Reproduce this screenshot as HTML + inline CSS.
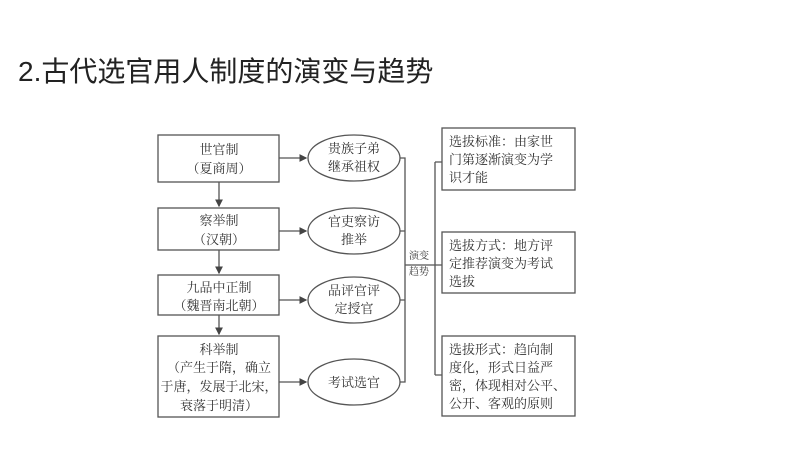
<!DOCTYPE html>
<html><head><meta charset="utf-8"><style>
body{margin:0;background:#fff;width:800px;height:450px;overflow:hidden;font-family:"Liberation Serif","Noto Serif CJK SC",serif;}
svg text{fill:#333;}
</style></head><body>
<svg width="800" height="450" xmlns="http://www.w3.org/2000/svg">
<defs><marker id="a" markerWidth="6" markerHeight="6" refX="5" refY="3" orient="auto"><path d="M0,0L6,3L0,6z" fill="#444"/></marker></defs>
<text x="18" y="81" font-size="28" font-family="Liberation Sans,Noto Sans CJK SC,sans-serif" style="fill:#222">2.古代选官用人制度的演变与趋势</text>
<g stroke="#555" stroke-width="1.3" fill="none">
<rect x="158" y="135" width="121" height="47"/>
<rect x="158" y="208" width="121" height="42"/>
<rect x="158" y="275" width="121" height="40"/>
<rect x="158" y="336" width="121" height="81"/>
<ellipse cx="354" cy="158" rx="46" ry="23"/>
<ellipse cx="354" cy="231" rx="46" ry="23"/>
<ellipse cx="354" cy="300" rx="46" ry="23"/>
<ellipse cx="354" cy="382" rx="46" ry="23"/>
<rect x="442" y="128" width="133" height="62"/>
<rect x="442" y="232" width="133" height="61"/>
<rect x="442" y="336" width="133" height="80"/>
<line x1="219" y1="182" x2="219" y2="206" marker-end="url(#a)"/>
<line x1="219" y1="250" x2="219" y2="273" marker-end="url(#a)"/>
<line x1="219" y1="315" x2="219" y2="334" marker-end="url(#a)"/>
<line x1="279" y1="158" x2="306" y2="158" marker-end="url(#a)"/>
<line x1="279" y1="231" x2="306" y2="231" marker-end="url(#a)"/>
<line x1="279" y1="300" x2="306" y2="300" marker-end="url(#a)"/>
<line x1="279" y1="382" x2="306" y2="382" marker-end="url(#a)"/>
<path d="M400 158H405V382H400M405 231H400M405 300H400M405 265H435M435 162V375M435 162H442M435 265H442M435 375H442"/>
</g>
<g font-size="13" text-anchor="middle">
<text x="219" y="154">世官制</text><text x="219" y="173">（夏商周）</text>
<text x="219" y="225">察举制</text><text x="219" y="244">（汉朝）</text>
<text x="219" y="292">九品中正制</text><text x="219" y="310">（魏晋南北朝）</text>
<text x="219" y="354">科举制</text><text x="219" y="372">（产生于隋，确立</text><text x="219" y="391">于唐，发展于北宋，</text><text x="219" y="410">衰落于明清）</text>
<text x="354" y="153">贵族子弟</text><text x="354" y="171">继承祖权</text>
<text x="354" y="226">官吏察访</text><text x="354" y="244">推举</text>
<text x="354" y="295">品评官评</text><text x="354" y="313">定授官</text>
<text x="354" y="387">考试选官</text>
</g>
<g font-size="10" text-anchor="middle"><text x="419" y="259">演变</text><text x="419" y="275">趋势</text></g>
<g font-size="13">
<text x="449" y="146">选拔标准：由家世</text><text x="449" y="164">门第逐渐演变为学</text><text x="449" y="182">识才能</text>
<text x="449" y="250">选拔方式：地方评</text><text x="449" y="268">定推荐演变为考试</text><text x="449" y="286">选拔</text>
<text x="449" y="354">选拔形式：趋向制</text><text x="449" y="372">度化，形式日益严</text><text x="449" y="390">密，体现相对公平、</text><text x="449" y="408">公开、客观的原则</text>
</g>
</svg>
</body></html>
